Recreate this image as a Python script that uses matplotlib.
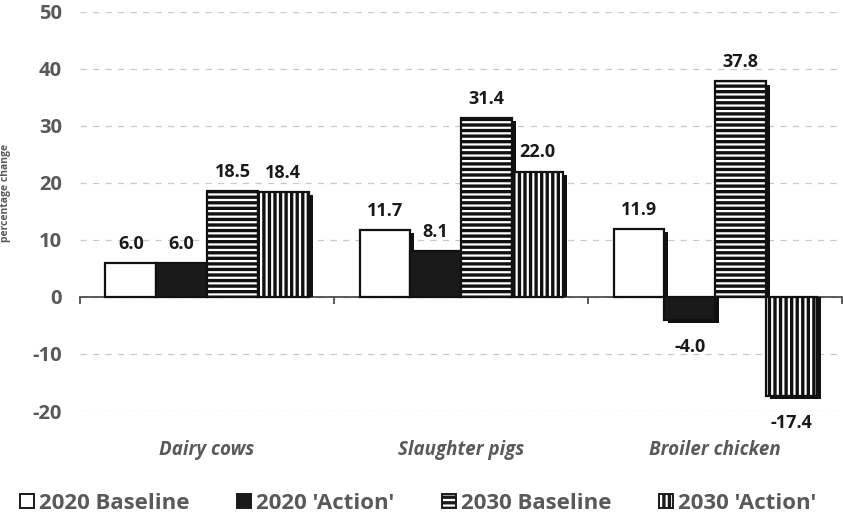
import numpy as np
import matplotlib
matplotlib.use('Agg')
import matplotlib.pyplot as plt
from matplotlib.patches import Patch
import matplotlib.transforms as mtransforms

plt.rcParams['font.family'] = ['Open Sans', 'DejaVu Sans']
plt.rcParams['hatch.linewidth'] = 2.4
plt.rcParams['hatch.color'] = '#111111'

# data
categories = ['Dairy cows', 'Slaughter pigs', 'Broiler chicken']
series = ['2020 Baseline', "2020 'Action'", '2030 Baseline', "2030 'Action'"]
base_2020 = [6.0, 11.7, 11.9]
action_2020 = [6.0, 8.1, -4.0]
base_2030 = [18.5, 31.4, 37.8]
action_2030 = [18.4, 22.0, -17.4]
values = [base_2020, action_2020, base_2030, action_2030]
yticks = [-20, -10, 0, 10, 20, 30, 40, 50]

faces = ['white', '#1a1a1a', 'white', 'white']
hatches = [None, None, '---', '|||']

fig = plt.figure(figsize=(8.43, 5.17), dpi=100)
ax = fig.add_axes([0.095, 0.205, 0.904, 0.772])

x = np.arange(len(categories))
width = 0.2
gray = '#595959'
dark = '#111111'
sh_dx = 0.016   # shadow shift right (data units)
sh_dy = 0.55    # shadow shift down (data units)

for i, vals in enumerate(values):
    pos = x - 0.3 + i * width
    # drop shadow behind each bar
    sh = [v - sh_dy for v in vals]
    ax.bar(pos + sh_dx, sh, width, color=dark, linewidth=0, zorder=2.5)
    ax.bar(pos, vals, width, color=faces[i], edgecolor=dark,
           linewidth=1.6, hatch=hatches[i], zorder=3)
    for px, v in zip(pos, vals):
        if v >= 0:
            ax.text(px, v + 2.5, f'{v:.1f}', ha='center', va='baseline',
                    fontsize=13, fontweight='bold', color='#1a1a1a')
        else:
            ax.text(px, v - 5.6, f'{v:.1f}', ha='center', va='baseline',
                    fontsize=13, fontweight='bold', color='#1a1a1a')

ax.set_xlim(-0.5, 2.5)
ax.set_ylim(-20, 50)
ax.set_yticks(yticks)
ax.set_yticklabels([str(t) for t in yticks], fontsize=14.5, fontweight='bold', color=gray)
ax.tick_params(axis='y', length=0, pad=13)
ax.yaxis.grid(True, linestyle=(0, (5, 5)), color='#c8c8c8', linewidth=0.9, zorder=0)
ax.set_axisbelow(True)

for s in ['top', 'right', 'left']:
    ax.spines[s].set_visible(False)
ax.spines['bottom'].set_position(('data', 0))
ax.spines['bottom'].set_color('#404040')
ax.spines['bottom'].set_linewidth(1.2)
ax.spines['bottom'].set_zorder(2)
ax.set_xticks([-0.5, 0.5, 1.5, 2.5])
ax.set_xticklabels([])
ax.tick_params(axis='x', direction='out', length=5, width=1.2, color='#404040')

trans = mtransforms.blended_transform_factory(ax.transData, ax.transAxes)
for xi, c in zip(x, categories):
    ax.text(xi, -0.098, c, transform=trans, ha='center', va='center',
            fontsize=13.5, fontweight='bold', fontstyle='italic', color=gray)

ax.set_ylabel('percentage change', fontsize=7.5, fontweight='bold', color=gray)
ax.yaxis.set_label_coords(-0.09, 0.546)

handles = [Patch(facecolor=faces[i], edgecolor='#1a1a1a', hatch=hatches[i], linewidth=1.4,
                 label=series[i]) for i in range(4)]
leg = fig.legend(handles=handles, loc='center left', bbox_to_anchor=(0.024, 0.027), ncol=4,
                 frameon=False, fontsize=16, handlelength=0.6, handleheight=0.6,
                 handletextpad=0.25, columnspacing=2.15, borderpad=0, borderaxespad=0)
for t in leg.get_texts():
    t.set_fontweight('bold')
    t.set_color(gray)

fig.savefig('out.png', dpi=100)
